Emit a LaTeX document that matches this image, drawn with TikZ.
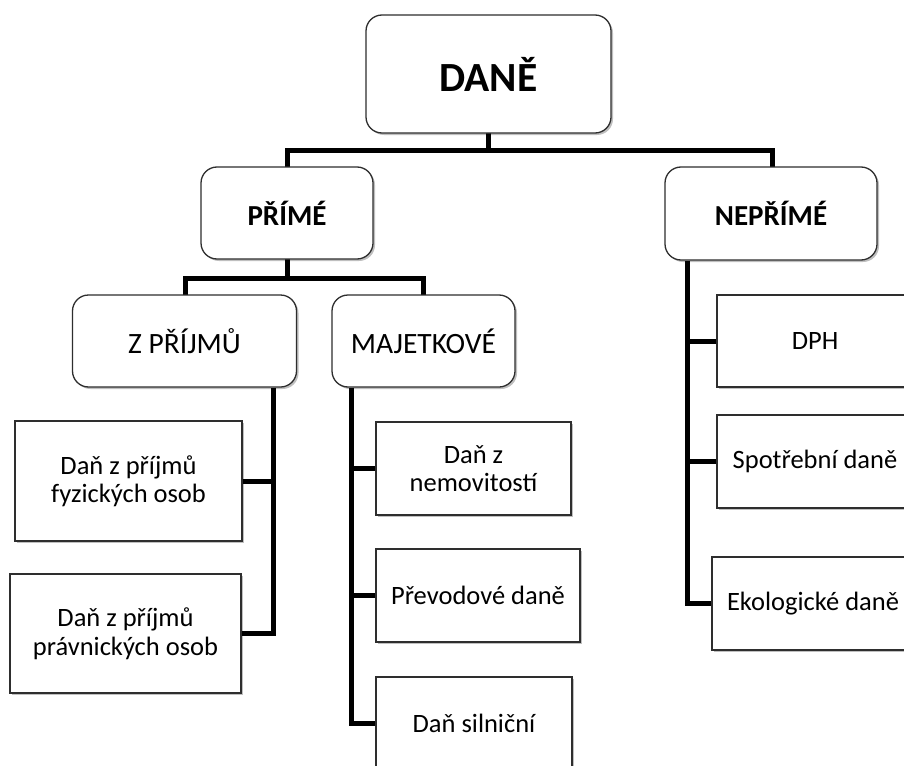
\documentclass[tikz,border=0pt]{standalone}
\usepackage{fontspec}
\setmainfont{Carlito}
\usetikzlibrary{shadows}
\definecolor{boxline}{HTML}{2E2E2E}
\tikzset{
  basebox/.style={draw=boxline, line width=1.3pt, fill=white, align=center,
    inner sep=0pt, text=black,
    drop shadow={shadow xshift=2pt, shadow yshift=-2pt, fill=black, opacity=0.25}},
  roundbox/.style={basebox, rounded corners=16pt},
  sqbox/.style={basebox},
  reg/.style={font=\fontsize{26.5}{28.5}\selectfont},
  mid/.style={font=\fontsize{29.5}{33}\selectfont},
  conn/.style={line width=5pt, draw=black, line join=miter},
}
\begin{document}
\begin{tikzpicture}[x=1pt, y=-1pt]
\useasboundingbox (0,0) rectangle (904,765);
\clip (0,0) rectangle (904,765);
\fill[white] (0,0) rectangle (904,765);

% junction coordinates
\coordinate (j1) at (488,150);
\coordinate (j2) at (287,278);
\coordinate (zs) at (273,387);
\coordinate (ms) at (351,387);
\coordinate (ns) at (687,260);
\coordinate (zl) at (185,295);
\coordinate (zr) at (423,295);

% connectors (drawn first, boxes cover the ends)
\draw[conn] (488,133) -- (j1);
\draw[conn] (287,167) |- (j1) -| (772,167);
\draw[conn] (287,259) -- (j2);
\draw[conn] (zl) |- (j2) -| (zr);

% nodes
\node[roundbox, minimum width=245pt, minimum height=118pt, font=\fontsize{41.5}{46}\selectfont\bfseries] (dane) at (488.5,74) {DANĚ};
\node[roundbox, minimum width=172pt, minimum height=92pt, font=\fontsize{29}{34}\selectfont\bfseries] (prime) at (287,213) {PŘÍMÉ};
\node[roundbox, minimum width=212pt, minimum height=93pt, font=\fontsize{29}{34}\selectfont\bfseries] (neprime) at (771,213.5) {NEPŘÍMÉ};
\node[roundbox, mid, minimum width=224pt, minimum height=92pt] (zprijmu) at (184.5,341) {Z PŘÍJMŮ};
\node[roundbox, mid, minimum width=183pt, minimum height=92pt] (majet) at (423.5,341) {MAJETKOVÉ};

\node[sqbox, reg, minimum width=227pt, minimum height=120pt] (fyz) at (128.5,481) {Daň z příjmů\\fyzických osob};
\node[sqbox, reg, minimum width=231pt, minimum height=119pt] (prav) at (125.5,633.5) {Daň z příjmů\\právnických osob};

\node[sqbox, reg, minimum width=195pt, minimum height=93pt] (nemov) at (473.5,468.5) {Daň z\\nemovitostí};
\node[sqbox, reg, minimum width=204pt, minimum height=93pt] (prevod) at (478,595.5) {Převodové daně};
\node[sqbox, reg, minimum width=196pt, minimum height=93pt] (silnic) at (474,723.5) {Daň silniční};

\node[sqbox, reg, minimum width=196pt, minimum height=92pt] (dph) at (815,341) {DPH};
\node[sqbox, reg, minimum width=196pt, minimum height=93pt] (spotr) at (815,461.5) {Spotřební daně};
\node[sqbox, reg, minimum width=202pt, minimum height=93pt] (ekol) at (813,603.5) {Ekologické daně};

% lower connectors
\draw[conn] (zprijmu.south -| zs) |- (prav.east);
\draw[conn] (fyz.east) -- (fyz.east -| zs);
\draw[conn] (majet.south -| ms) |- (silnic.west);
\draw[conn] (nemov.west) -- (nemov.west -| ms);
\draw[conn] (prevod.west) -- (prevod.west -| ms);
\draw[conn] (neprime.south -| ns) |- (ekol.west);
\draw[conn] (dph.west) -- (dph.west -| ns);
\draw[conn] (spotr.west) -- (spotr.west -| ns);
\end{tikzpicture}
\end{document}
